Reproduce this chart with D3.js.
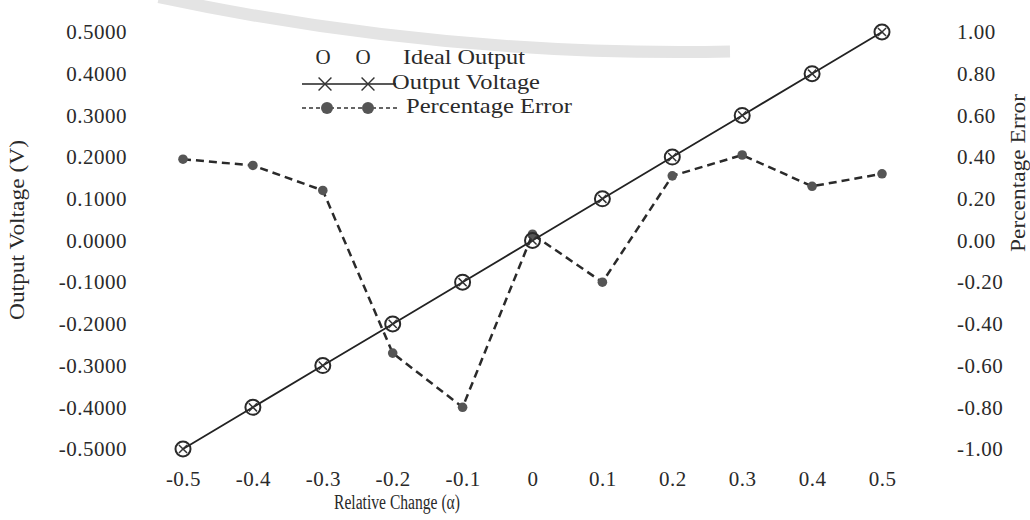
<!DOCTYPE html>
<html>
<head>
<meta charset="utf-8">
<script src="https://cdn.jsdelivr.net/npm/d3@7"></script>
<style>
  html, body { margin: 0; padding: 0; background: #fff; }
  svg { display: block; }
  text { font-family: "Liberation Serif", "Times New Roman", serif; fill: #2a2a2a; }
</style>
</head>
<body>
<svg id="chart" width="1030" height="520"></svg>
<script>
// ---- data ----
const relChange = [-0.5, -0.4, -0.3, -0.2, -0.1, 0, 0.1, 0.2, 0.3, 0.4, 0.5];
const idealOutput = [-0.5, -0.4, -0.3, -0.2, -0.1, 0, 0.1, 0.2, 0.3, 0.4, 0.5];
const outputVoltage = [-0.5, -0.4, -0.3, -0.2, -0.1, 0, 0.1, 0.2, 0.3, 0.4, 0.5];
const percentageError = [0.39, 0.36, 0.24, -0.54, -0.80, 0.03, -0.20, 0.31, 0.41, 0.26, 0.32];
const xTickLabels = ["-0.5", "-0.4", "-0.3", "-0.2", "-0.1", "0", "0.1", "0.2", "0.3", "0.4", "0.5"];
const leftTicks = [0.5, 0.4, 0.3, 0.2, 0.1, 0, -0.1, -0.2, -0.3, -0.4, -0.5];
const rightTicks = [1, 0.8, 0.6, 0.4, 0.2, 0, -0.2, -0.4, -0.6, -0.8, -1];
const legendLabels = ["Ideal Output", "Output Voltage", "Percentage Error"];

const svg = d3.select("#chart");

// faint watermark arc (background decoration)
const R = 2500;
svg.append("path")
  .attr("d", d3.arc()({innerRadius: R - 6, outerRadius: R + 6, startAngle: Math.PI - 0.02, endAngle: Math.PI + 0.21}))
  .attr("transform", `translate(680,${52 - R})`)
  .attr("fill", "#e4e4e4");

const x = d3.scaleLinear().domain([-0.5, 0.5]).range([183, 882]);
const yL = d3.scaleLinear().domain([-0.5, 0.5]).range([449, 32]);
const yR = d3.scaleLinear().domain([-1, 1]).range([449, 32]);

const fmt4 = v => d3.format(".4f")(v).replace("\u2212", "-");
const fmt2 = v => d3.format(".2f")(v).replace("\u2212", "-");

function styleTicks(g) {
  g.select(".domain").remove();
  g.selectAll("text").style("font-size", "21px").style("letter-spacing", "0.5px")
    .attr("font-family", null).attr("fill", "#2a2a2a");
}

// left axis
const gL = svg.append("g").attr("transform", "translate(127,0)")
  .call(d3.axisLeft(yL).tickValues(leftTicks).tickFormat(fmt4).tickSize(0).tickPadding(0));
styleTicks(gL);

// right axis
const gR = svg.append("g").attr("transform", "translate(957,0)")
  .call(d3.axisRight(yR).tickValues(rightTicks).tickFormat(fmt2).tickSize(0).tickPadding(0));
styleTicks(gR);

// bottom axis
const gB = svg.append("g").attr("transform", "translate(0,471)")
  .call(d3.axisBottom(x).tickValues(relChange).tickFormat((d, i) => xTickLabels[i]).tickSize(0).tickPadding(0));
styleTicks(gB);

// axis titles
svg.append("text").attr("x", 397).attr("y", 509).attr("text-anchor", "middle")
  .attr("textLength", 126).attr("lengthAdjust", "spacingAndGlyphs")
  .style("font-size", "20px").text("Relative Change (\u03b1)");
svg.append("text").attr("transform", "translate(24,230) rotate(-90)").attr("text-anchor", "middle")
  .attr("textLength", 180).attr("lengthAdjust", "spacingAndGlyphs")
  .style("font-size", "21px").text("Output Voltage (V)");
svg.append("text").attr("transform", "translate(1025,173) rotate(-90)").attr("text-anchor", "middle")
  .attr("textLength", 158).attr("lengthAdjust", "spacingAndGlyphs")
  .style("font-size", "21px").text("Percentage Error");

// percentage error series
const pe = relChange.map((c, i) => ({x: c, y: percentageError[i]}));
svg.append("path").datum(pe)
  .attr("d", d3.line().x(d => x(d.x)).y(d => yR(d.y)))
  .attr("fill", "none").attr("stroke", "#2a2a2a").attr("stroke-width", 2.5)
  .attr("stroke-dasharray", "8,5");
svg.selectAll("circle.pe").data(pe).enter().append("circle").attr("class", "pe")
  .attr("cx", d => x(d.x)).attr("cy", d => yR(d.y)).attr("r", 4.8).attr("fill", "#555");

// output voltage line
const ov = relChange.map((c, i) => ({x: c, y: outputVoltage[i]}));
svg.append("path").datum(ov)
  .attr("d", d3.line().x(d => x(d.x)).y(d => yL(d.y)))
  .attr("fill", "none").attr("stroke", "#222").attr("stroke-width", 1.8);

// ideal output circles
const io = relChange.map((c, i) => ({x: c, y: idealOutput[i]}));
svg.selectAll("circle.io").data(io).enter().append("circle").attr("class", "io")
  .attr("cx", d => x(d.x)).attr("cy", d => yL(d.y)).attr("r", 7.5)
  .attr("fill", "none").attr("stroke", "#2a2a2a").attr("stroke-width", 2);

// output voltage X markers
const xSym = d3.symbol().type(d3.symbolX).size(45);
svg.selectAll("path.ov").data(ov).enter().append("path").attr("class", "ov")
  .attr("d", xSym)
  .attr("transform", d => `translate(${x(d.x)},${yL(d.y)})`)
  .attr("fill", "none").attr("stroke", "#333").attr("stroke-width", 1.5);

// legend
const lg = svg.append("g");
lg.append("text").attr("x", 323).attr("y", 64).attr("text-anchor", "middle").style("font-size", "21px").text("O");
lg.append("text").attr("x", 363).attr("y", 64).attr("text-anchor", "middle").style("font-size", "21px").text("O");
lg.append("text").attr("x", 403).attr("y", 64).attr("textLength", 122).attr("lengthAdjust", "spacingAndGlyphs")
  .style("font-size", "21px").text(legendLabels[0]);

lg.append("line").attr("x1", 302).attr("x2", 396).attr("y1", 84).attr("y2", 84)
  .attr("stroke", "#222").attr("stroke-width", 1.6);
[325, 368].forEach(px => {
  lg.append("path").attr("d", d3.symbol().type(d3.symbolX).size(110)())
    .attr("transform", `translate(${px},84)`).attr("fill", "none").attr("stroke", "#333").attr("stroke-width", 1.4);
});
lg.append("text").attr("x", 392).attr("y", 89).attr("textLength", 148).attr("lengthAdjust", "spacingAndGlyphs")
  .style("font-size", "21px").text(legendLabels[1]);

lg.append("line").attr("x1", 302).attr("x2", 398).attr("y1", 108).attr("y2", 108)
  .attr("stroke", "#333").attr("stroke-width", 1.6).attr("stroke-dasharray", "4,3");
[327, 368].forEach(px => {
  lg.append("circle").attr("cx", px).attr("cy", 108).attr("r", 6).attr("fill", "#555");
});
lg.append("text").attr("x", 406).attr("y", 113).attr("textLength", 166).attr("lengthAdjust", "spacingAndGlyphs")
  .style("font-size", "21px").text(legendLabels[2]);
</script>
</body>
</html>
